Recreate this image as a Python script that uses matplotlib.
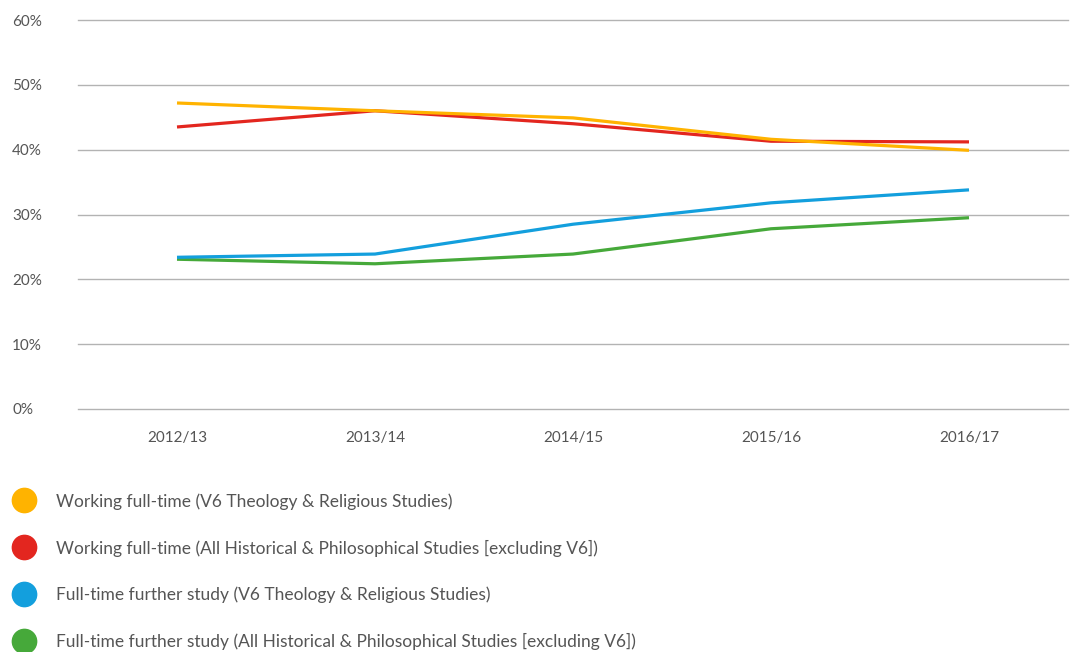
import numpy as np
import matplotlib.pyplot as plt
from matplotlib.lines import Line2D

plt.rcParams['font.family'] = ['Lato', 'DejaVu Sans']

years = ['2012/13', '2013/14', '2014/15', '2015/16', '2016/17']
work_v6 = [47.2, 46.0, 44.9, 41.6, 39.9]
work_all = [43.5, 46.0, 44.0, 41.3, 41.2]
study_v6 = [23.4, 23.9, 28.5, 31.8, 33.8]
study_all = [23.1, 22.4, 23.9, 27.8, 29.5]

labels = [
    'Working full-time (V6 Theology & Religious Studies)',
    'Working full-time (All Historical & Philosophical Studies [excluding V6])',
    'Full-time further study (V6 Theology & Religious Studies)',
    'Full-time further study (All Historical & Philosophical Studies [excluding V6])',
]
colors = ['#FFB300', '#E3261F', '#139FDD', '#46A93A']
series = [work_v6, work_all, study_v6, study_all]

fig = plt.figure(figsize=(10.75, 6.52), dpi=100)
ax = fig.add_axes([78 / 1075, 1 - 409 / 652, 990 / 1075, 389 / 652])

x = np.arange(len(years))
# draw back to front so yellow sits on top of red, like the original
for vals, c in reversed(list(zip(series, colors))):
    ax.plot(x, vals, color=c, lw=2.3, solid_capstyle='butt')

ax.set_xlim(-0.5, len(years) - 0.5)
ax.set_ylim(0, 60)
ax.set_yticks(range(0, 61, 10))
ax.set_yticklabels([f'{v}%' for v in range(0, 61, 10)])
ax.set_xticks(x)
ax.set_xticklabels(years)
ax.yaxis.grid(True, color='#b3b3b3', lw=1)
for gl in ax.get_ygridlines():
    gl.set_clip_on(False)
ax.set_axisbelow(True)
for s in ax.spines.values():
    s.set_visible(False)
ax.tick_params(axis='both', length=0, labelsize=11, labelcolor='#555555')
ax.tick_params(axis='y', pad=47.5)
for t in ax.get_yticklabels():
    t.set_horizontalalignment('left')
ax.tick_params(axis='x', pad=16)

handles = [Line2D([], [], ls='none', marker='o', markersize=17.5, color=c) for c in colors]
fig.legend(handles, labels, loc='upper left', bbox_to_anchor=(0.0, 1 - 482 / 652),
           frameon=False, fontsize=12.5, labelcolor='#555555', labelspacing=1.73,
           handletextpad=1.1, borderaxespad=0, borderpad=0.63, handlelength=1.5)

fig.savefig('out.png', dpi=100)
